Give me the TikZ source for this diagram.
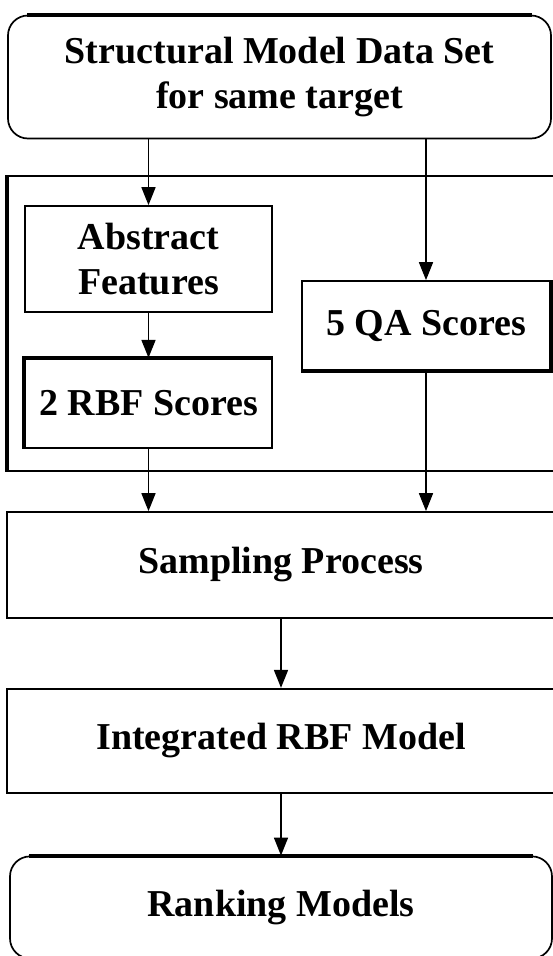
\documentclass[tikz,border=0pt]{standalone}
\usepackage{fontspec}
\setmainfont{Liberation Serif}
\usetikzlibrary{arrows.meta,positioning}

\begin{document}
\begin{tikzpicture}[x=1pt,y=-1pt,
        box/.style={rectangle,draw,line width=1.7pt,inner sep=0pt,align=center,
          font=\fontsize{38}{45}\selectfont\bfseries},
        roundbox/.style={box,rounded corners=20pt},
        heavy/.style={line width=4pt},
        arrow/.style={-{Triangle[length=18pt,width=14pt]},line width=1.7pt}]
        \useasboundingbox (0,0) rectangle (553,956);
        \clip (0,0) rectangle (553,956);
        % data set and the two score branches
        \node[roundbox,minimum width=543pt,minimum height=123pt] (data) at (279.5,77) {Structural Model Data Set\\for same target};
        \node[box,minimum width=563pt,minimum height=295pt,anchor=north west] (frame) at (7,175) {};
        \node[box,minimum width=247pt,minimum height=106pt] (feat) at (148.5,259) {Abstract\\Features};
        \node[box,minimum width=247pt,minimum height=89pt,below=45pt of feat] (rbf) {2 RBF Scores};
        \node[box,minimum width=248pt,minimum height=89pt] (qa) at (426,325.5) {5 QA Scores};
        % main column
        \node[box,minimum width=548pt,minimum height=106pt] (sampling) at (281,565) {Sampling Process};
        \node[box,minimum width=548pt,minimum height=104pt,below=69pt of sampling] (integ) {Integrated RBF Model};
        \node[roundbox,minimum width=542pt,minimum height=102pt,below=62pt of integ] (rank) {Ranking Models};
        % heavy edges
        \draw[heavy] ([xshift=20pt]data.north west) -- ([xshift=-20pt]data.north east);
        \draw[heavy] ([xshift=20pt]rank.north west) -- ([xshift=-20pt]rank.north east);
        \draw[heavy] (rbf.south west) -- (rbf.north west) -- (rbf.north east);
        \draw[heavy] (qa.north east) -- (qa.south east) -- (qa.south west);
        \draw[heavy] (frame.north west) -- (frame.south west);
        \draw[arrow] (data.south -| feat.north) -- (feat.north);
        \draw[arrow] (data.south -| qa.north) -- (qa.north);
        \draw[arrow] (feat) -- (rbf);
        \draw[arrow] (rbf.south) -- (rbf.south |- sampling.north);
        \draw[arrow] (qa.south) -- (qa.south |- sampling.north);
        \draw[arrow] (sampling) -- (integ);
        \draw[arrow] (integ) -- (rank);
      \end{tikzpicture}
\end{document}
